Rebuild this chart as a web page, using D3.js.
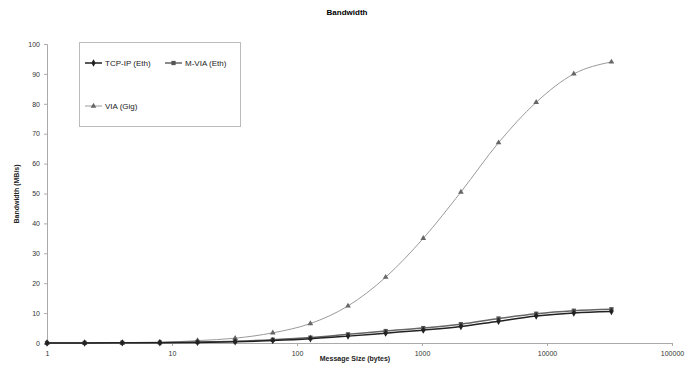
<!DOCTYPE html>
<html>
<head>
<meta charset="utf-8">
<script src="https://cdn.jsdelivr.net/npm/d3@7"></script>
<style>
  body { margin: 0; background: #fff; }
  text { font-family: Arial, "Liberation Sans", sans-serif; }
</style>
</head>
<body>
<script>
// message sizes (bytes)
var sizes = [1, 2, 4, 8, 16, 32, 64, 128, 256, 512, 1024, 2048, 4096, 8192, 16384, 32768];
var tcpIp = [0.01, 0.02, 0.05, 0.1, 0.2, 0.4, 0.8, 1.4, 2.3, 3.3, 4.3, 5.5, 7.3, 9.0, 10.0, 10.5];
var mVia  = [0.01, 0.03, 0.08, 0.15, 0.35, 0.6, 1.1, 1.8, 2.9, 4.0, 5.0, 6.3, 8.2, 9.8, 10.8, 11.3];
var via   = [0, 0.01, 0.05, 0.2, 0.8, 1.6, 3.4, 6.5, 12.4, 22, 35, 50.5, 67, 80.5, 90, 94];
var xTicks = [1, 10, 100, 1000, 10000, 100000];
var yTicks = [0, 10, 20, 30, 40, 50, 60, 70, 80, 90, 100];

var w = 694, h = 381;
var svg = d3.select("body").append("svg")
  .attr("width", w)
  .attr("height", h);

var x = d3.scaleLog().domain([1, 100000]).range([47, 672]);
var y = d3.scaleLinear().domain([0, 100]).range([343, 44]);

// title
svg.append("text")
  .attr("x", 347).attr("y", 15)
  .attr("text-anchor", "middle")
  .style("font-size", "8px").style("font-weight", "bold")
  .text("Bandwidth");

// axes
var xAxis = d3.axisBottom(x).tickValues(xTicks).tickFormat(d3.format("d")).tickSize(3).tickPadding(5);
var yAxis = d3.axisLeft(y).tickValues(yTicks).tickSize(3).tickPadding(4);

var gx = svg.append("g").attr("transform", "translate(0," + y(0) + ")").call(xAxis);
var gy = svg.append("g").attr("transform", "translate(" + x(1) + ",0)").call(yAxis);
[gx, gy].forEach(function(g) {
  g.select(".domain").attr("stroke", "#aaa");
  g.selectAll(".tick line").attr("stroke", "#aaa");
  g.selectAll(".tick text").attr("fill", "#333").style("font-size", "7px")
    .style("font-family", "Arial, 'Liberation Sans', sans-serif");
});

svg.append("text")
  .attr("x", 355).attr("y", 361)
  .attr("text-anchor", "middle")
  .style("font-size", "7px").style("font-weight", "bold").attr("fill", "#222")
  .text("Message Size (bytes)");

svg.append("text")
  .attr("transform", "translate(19,194) rotate(-90)")
  .attr("text-anchor", "middle")
  .style("font-size", "7px").style("font-weight", "bold").attr("fill", "#222")
  .text("Bandwidth (MB/s)");

var series = [
  {name: "TCP-IP (Eth)", values: tcpIp, color: "#222", fill: "#222", width: 1.5, marker: d3.symbolDiamond, size: 16},
  {name: "M-VIA (Eth)", values: mVia, color: "#666", fill: "#555", width: 1.5, marker: d3.symbolSquare, size: 18},
  {name: "VIA (Gig)", values: via, color: "#9a9a9a", fill: "#666", width: 1, marker: d3.symbolTriangle, size: 14}
];

var line = d3.line()
  .x(function(d) { return x(d[0]); })
  .y(function(d) { return y(d[1]); })
  .curve(d3.curveMonotoneX);

series.slice().reverse().forEach(function(s) {
  var pts = sizes.map(function(v, i) { return [v, s.values[i]]; });
  svg.append("path")
    .datum(pts)
    .attr("d", line)
    .attr("fill", "none")
    .attr("stroke", s.color)
    .attr("stroke-width", s.width);
  svg.append("g").selectAll("path")
    .data(pts)
    .enter().append("path")
      .attr("transform", function(d) { return "translate(" + x(d[0]) + "," + y(d[1]) + ")"; })
      .attr("d", d3.symbol().type(s.marker).size(s.size))
      .attr("fill", s.fill);
});

// legend
var legend = svg.append("g");
legend.append("rect")
  .attr("x", 79.5).attr("y", 42.5)
  .attr("width", 161).attr("height", 84)
  .attr("fill", "#fff").attr("stroke", "#bbb");

var legendPos = [[85, 63], [165, 63], [85, 106]];
series.forEach(function(s, i) {
  var p = legendPos[i];
  legend.append("line")
    .attr("x1", p[0]).attr("x2", p[0] + 17)
    .attr("y1", p[1]).attr("y2", p[1])
    .attr("stroke", s.color).attr("stroke-width", s.width);
  legend.append("path")
    .attr("transform", "translate(" + (p[0] + 8.5) + "," + p[1] + ")")
    .attr("d", d3.symbol().type(s.marker).size(s.size))
    .attr("fill", s.fill);
  legend.append("text")
    .attr("x", p[0] + 20).attr("y", p[1] + 3)
    .style("font-size", "8px").attr("fill", "#222")
    .text(s.name);
});
</script>
</body>
</html>
